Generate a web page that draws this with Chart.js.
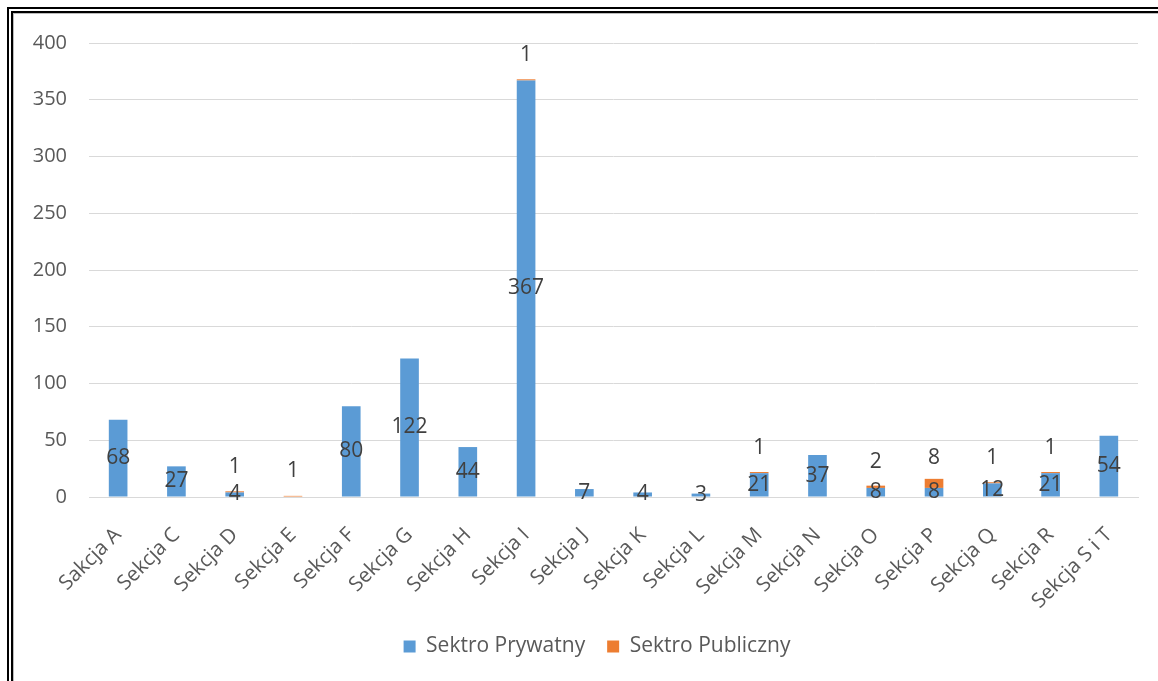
<!DOCTYPE html>
<html>
<head>
<meta charset="utf-8">
<script src="https://cdn.jsdelivr.net/npm/chart.js@4.4.1/dist/chart.umd.min.js"></script>
<style>
  html, body { margin: 0; padding: 0; background: #fff; width: 1158px; height: 681px; overflow: hidden; }
  #frame { position: absolute; left: 7px; top: 7px; width: 1200px; height: 720px; border: 6px double #000; box-sizing: border-box; }
  #inner { position: absolute; left: 13px; top: 13px; width: 1200px; height: 720px; border-left: 1px solid #bbb; border-top: 1px solid #bbb; }
  #wrap { position: absolute; left: 14px; top: 14px; width: 1144px; height: 667px; }
</style>
</head>
<body>
<div id="frame"></div>
<div id="inner"></div>
<div id="wrap"><canvas id="c" width="1144" height="667"></canvas></div>
<script>
const categories = ["Sakcja A","Sekcja C","Sekcja D","Sekcja E","Sekcja F","Sekcja G","Sekcja H","Sekcja I","Sekcja J","Sekcja K","Sekcja L","Sekcja M","Sekcja N","Sekcja O","Sekcja P","Sekcja Q","Sekcja R","Sekcja S i T"];
const privateSector = [68,27,4,null,80,122,44,367,7,4,3,21,37,8,8,12,21,54];
const publicSector  = [null,null,1,1,null,null,null,1,null,null,null,1,null,2,8,1,1,null];
const seriesNames = ["Sektro Prywatny","Sektro Publiczny"];
const yTicks = [0,50,100,150,200,250,300,350,400];

const FONT = "'Open Sans', sans-serif";

const labelPlugin = {
  id: 'valueLabels',
  afterDatasetsDraw(chart) {
    const ctx = chart.ctx;
    ctx.save();
    ctx.font = "21px " + FONT;
    ctx.fillStyle = "#404040";
    ctx.textAlign = "center";
    ctx.textBaseline = "middle";
    chart.data.datasets.forEach((ds, di) => {
      const meta = chart.getDatasetMeta(di);
      meta.data.forEach((el, i) => {
        const v = ds.data[i];
        if (v === null || v === undefined) return;
        const mid = (el.y + el.base) / 2;
        if (di === 0) {
          ctx.fillText(String(v), el.x, mid);
        } else {
          ctx.fillText(String(v), el.x, mid - 25);
        }
      });
    });
    ctx.restore();
  }
};

const legendShift = {
  id: 'legendShift',
  afterLayout(chart) {
    const lg = chart.legend;
    if (lg) { lg.left += 21; lg.right += 21; }
  }
};

new Chart(document.getElementById('c'), {
  type: 'bar',
  data: {
    labels: categories,
    datasets: [
      { label: seriesNames[0], data: privateSector, backgroundColor: '#5B9BD5', borderWidth: 0, barPercentage: 0.32, categoryPercentage: 1 },
      { label: seriesNames[1], data: publicSector, backgroundColor: '#ED7D31', borderWidth: 0, barPercentage: 0.32, categoryPercentage: 1 }
    ]
  },
  plugins: [labelPlugin, legendShift],
  options: {
    responsive: false,
    animation: false,
    layout: { padding: { top: 29, right: 20, bottom: 14, left: 0 } },
    plugins: {
      legend: {
        position: 'bottom',
        labels: { font: { family: FONT, size: 21 }, color: '#595959', boxWidth: 12, boxHeight: 12, padding: 22, useBorderRadius: false }
      },
      tooltip: { enabled: false }
    },
    scales: {
      x: {
        stacked: true,
        grid: { display: false, drawTicks: false },
        border: { display: true, color: '#d9d9d9', width: 1 },
        ticks: { font: { family: FONT, size: 20.5 }, color: '#595959', minRotation: 45, maxRotation: 45, padding: 26, autoSkip: false },
        afterFit(scale) { scale.height = 117; }
      },
      y: {
        stacked: true,
        min: 0, max: 400,
        afterBuildTicks(scale) { scale.ticks = yTicks.map(v => ({ value: v })); },
        grid: { color: '#d9d9d9', drawTicks: false },
        border: { display: false },
        ticks: { font: { family: FONT, size: 20 }, color: '#595959', padding: 22 },
        afterFit(scale) { scale.width = 75; scale.paddingTop = 0; scale.paddingBottom = 0; }
      }
    }
  }
});
</script>
</body>
</html>
